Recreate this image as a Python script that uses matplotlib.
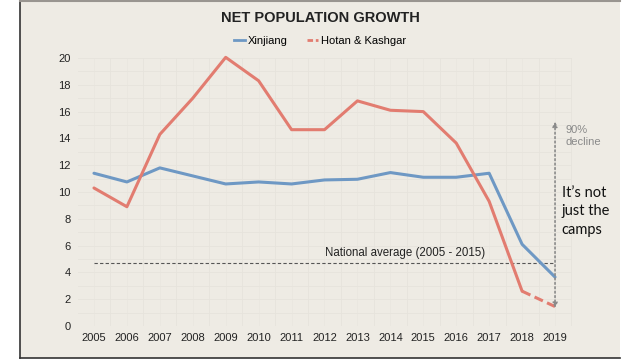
import matplotlib
matplotlib.use("Agg")
import matplotlib.pyplot as plt
from matplotlib.patches import Rectangle
from matplotlib.lines import Line2D

years = [2005, 2006, 2007, 2008, 2009, 2010, 2011, 2012, 2013, 2014, 2015, 2016, 2017, 2018, 2019]
xinjiang = [11.4, 10.75, 11.8, 11.2, 10.6, 10.75, 10.6, 10.9, 10.95, 11.45, 11.1, 11.1, 11.4, 6.1, 3.65]
hotan_kashgar = [10.3, 8.9, 14.3, 17.0, 20.05, 18.3, 14.65, 14.65, 16.8, 16.1, 16.0, 13.65, 9.3, 2.6, 1.45]
national_avg = 4.7
yticks = [0, 2, 4, 6, 8, 10, 12, 14, 16, 18, 20]

plt.rcParams['font.family'] = ['Liberation Sans', 'DejaVu Sans']

fig = plt.figure(figsize=(6.4, 3.6), dpi=100)
fig.patch.set_facecolor('white')

bg = '#eeebe4'
# slide panel
panel = Rectangle((20/640, 2/360), 600/640, 358/360, transform=fig.transFigure,
                  facecolor=bg, edgecolor='none', zorder=-10)
fig.patches.append(panel)
fig.lines.append(Line2D([20/640, 20/640], [2/360, 1], transform=fig.transFigure, color='#333333', lw=1.2, zorder=-5))
fig.lines.append(Line2D([20/640, 620/640], [2.5/360, 2.5/360], transform=fig.transFigure, color='#333333', lw=1.2, zorder=-5))
fig.lines.append(Line2D([20/640, 620/640], [359.5/360, 359.5/360], transform=fig.transFigure, color='#999590', lw=1.5, zorder=-5))

left_px, right_px = 77.5, 571.5
ax = fig.add_axes([left_px/640, 1 - 326/360, (right_px - left_px)/640, (326 - 58)/360])
ax.patch.set_alpha(0)
for s in ax.spines.values():
    s.set_visible(False)

ax.set_xlim(2004.5, 2019.5)
ax.set_ylim(0, 20)
ax.set_yticks(yticks)
ax.set_yticklabels([str(v) for v in yticks], fontsize=8, color='#222222')
ax.set_xticks(years)
ax.set_xticklabels([str(y) for y in years], fontsize=8, color='#222222')
ax.tick_params(length=0, pad=5)
ax.tick_params(axis='y', pad=5)

# faint grid
for y in range(0, 21, 1):
    ax.axhline(y, color='#e6e3dc', lw=0.6, zorder=0)
for x in years:
    ax.axvline(x + 0.5, color='#e6e3dc', lw=0.6, zorder=0)
    ax.axvline(x, color='#e8e5de', lw=0.4, zorder=0)

blue = '#6e98c4'
red = '#e27c70'

ax.plot(years, xinjiang, color=blue, lw=2.2, zorder=3, solid_capstyle='round', clip_on=False)
ax.plot(years[:-1], hotan_kashgar[:-1], color=red, lw=2.2, zorder=3, solid_capstyle='round', clip_on=False)
ax.plot(years[-2:], hotan_kashgar[-2:], color=red, lw=2.2, zorder=3, ls=(0, (3, 1.5)), clip_on=False)

# national average
ax.plot([years[0], years[-1]], [national_avg, national_avg], color='#555555', lw=0.8, ls=(0, (3, 2)), zorder=2)
ax.text(2014.45, national_avg + 0.3, 'National average (2005 - 2015)', fontsize=8.3,
        ha='center', va='bottom', color='#222222')

# decline arrow
ax.annotate('', xy=(2019, hotan_kashgar[-1] - 0.1), xytext=(2019, 15.25),
            arrowprops=dict(arrowstyle='<|-|>', color='#8a8a8a', lw=1.2, ls=':',
                            mutation_scale=7, shrinkA=0, shrinkB=0), zorder=4)
ax.text(2019.33, 14.15, '90%\ndecline', fontsize=8, color='#8a8a8a', ha='left', va='center',
        linespacing=1.25)
ax.text(2019.2, 8.55, "It\u2019s not\njust the\ncamps", fontsize=10.5, color='#111111', ha='left',
        va='center', linespacing=1.4, family=['Lato', 'DejaVu Sans'])

# title and legend
fig.text(0.5, 1 - 18.5/360, 'NET POPULATION GROWTH', ha='center', va='center', fontsize=10.5,
         fontweight='bold', color='#222222')
leg_handles = [Line2D([0], [0], color=blue, lw=2), Line2D([0], [0], color=red, lw=2, ls=(0, (2, 1)))]
fig.legend(leg_handles, ['Xinjiang', 'Hotan & Kashgar'], loc='center', bbox_to_anchor=(0.5, 1 - 41/360),
           ncol=2, frameon=False, fontsize=8, handlelength=1.0, handletextpad=0.2, columnspacing=1.8)

fig.savefig('out.png', dpi=100, facecolor='white')
